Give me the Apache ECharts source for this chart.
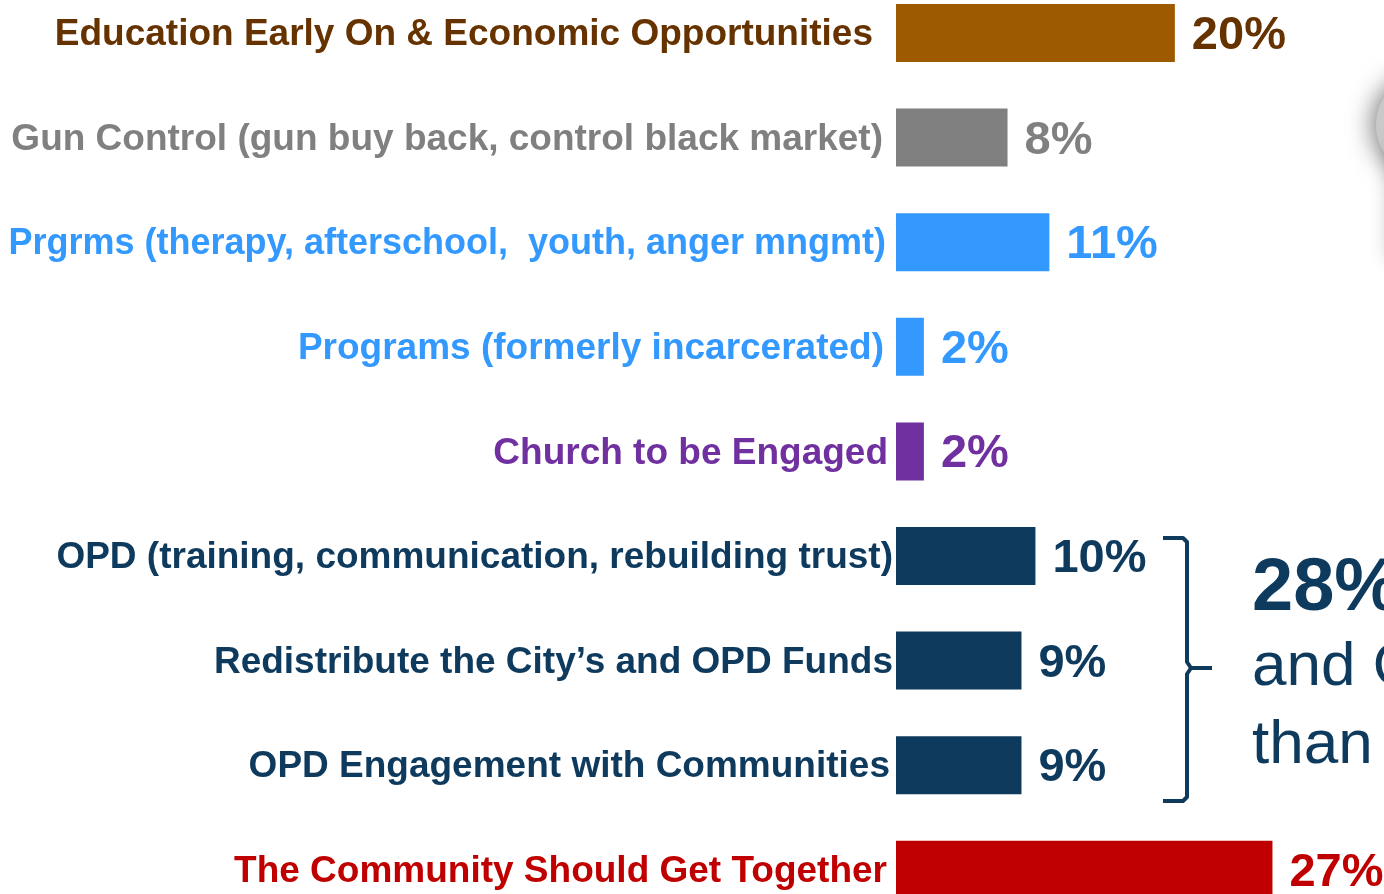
<!DOCTYPE html>
<html>
<head>
<meta charset="utf-8">
<script src="https://cdn.jsdelivr.net/npm/echarts@6/dist/echarts.min.js"></script>
<style>
  html, body { margin: 0; padding: 0; background: #ffffff; overflow: hidden; }
  #wrap { position: relative; width: 1384px; height: 894px; overflow: hidden; }
  /* the plot runs slightly past the top and bottom of the view */
  #chart { position: absolute; left: 0; top: -20px; width: 1384px; height: 962px; }
</style>
</head>
<body>
<div id="wrap"><div id="chart"></div></div>
<script>
// Survey responses: share of suggestions per theme (percent)
const categories = [
  'Education Early On & Economic Opportunities',
  'Gun Control (gun buy back, control black market)',
  'Prgrms (therapy, afterschool,  youth, anger mngmt)',
  'Programs (formerly incarcerated)',
  'Church to be Engaged',
  'OPD (training, communication, rebuilding trust)',
  'Redistribute the City\u2019s and OPD Funds',
  'OPD Engagement with Communities',
  'The Community Should Get Together'
];
const values = [20, 8, 11, 2, 2, 10, 9, 9, 27];
const opdGroupTotal = '28%';
const noteLines = ['and OPD', 'than'];

// Styling per row
const barColors  = ['#9E5A00', '#808080', '#3399FF', '#3399FF', '#7030A0', '#0E3A5E', '#0E3A5E', '#0E3A5E', '#C00000'];
const textColors = ['#663300', '#808080', '#3399FF', '#3399FF', '#7030A0', '#0E3A5E', '#0E3A5E', '#0E3A5E', '#C00000'];
const labelSize  = [37, 37, 36, 37, 37, 37, 37, 37, 37];
const labelGap   = [20, 10, 7, 9, 5, 0, 0, 3, 6];

const FONT = '"Liberation Sans", Arial, sans-serif';
const NAVY = '#0E3A5E';
const DY = 20; // container is shifted up by this much

const rich = {};
categories.forEach((c, i) => {
  rich['c' + i] = {
    color: textColors[i],
    fontSize: labelSize[i],
    fontWeight: 'bold',
    fontFamily: FONT,
    padding: [4, labelGap[i], 0, 0]
  };
});

const chart = echarts.init(document.getElementById('chart'), null, { renderer: 'canvas' });

chart.setOption({
  animation: false,
  backgroundColor: '#ffffff',
  grid: { left: 896, top: 0.7, width: 490, height: 941.4, containLabel: false },
  xAxis: {
    type: 'value', min: 0, max: 35,
    show: false
  },
  yAxis: {
    type: 'category',
    inverse: true,
    data: categories,
    axisLine: { show: false },
    axisTick: { show: false },
    splitLine: { show: false },
    axisLabel: {
      margin: 3,
      formatter: (v, i) => '{c' + i + '|' + v + '}',
      rich: rich
    }
  },
  series: [{
    type: 'bar',
    barWidth: 58,
    data: values.map((v, i) => ({
      value: v,
      itemStyle: { color: barColors[i] },
      label: { color: textColors[i] }
    })),
    label: {
      show: true,
      position: 'right',
      distance: 17,
      offset: [0, 3],
      fontSize: 47,
      fontWeight: 'bold',
      fontFamily: FONT,
      formatter: p => p.value + '%'
    }
  }],
  graphic: [
    // decorative rounded shape peeking in at the top right edge
    {
      type: 'circle',
      shape: { cx: 1428, cy: 125 + DY, r: 52 },
      style: { fill: '#c9c9c9', shadowBlur: 25, shadowColor: 'rgba(0,0,0,0.5)', shadowOffsetX: -4 }
    },
    {
      type: 'rect',
      shape: { x: 1394, y: 150 + DY, width: 60, height: 110 },
      style: { fill: '#ffffff', shadowBlur: 20, shadowColor: 'rgba(0,0,0,0.3)', shadowOffsetX: -4 }
    },
    // brace grouping the three OPD rows
    {
      type: 'polyline',
      shape: { points: [[1163, 538 + DY], [1183, 538 + DY], [1187, 542 + DY], [1187, 662 + DY], [1191, 668 + DY], [1212, 668 + DY]] },
      style: { fill: null, stroke: NAVY, lineWidth: 4, lineJoin: 'round' }
    },
    {
      type: 'polyline',
      shape: { points: [[1191, 668 + DY], [1187, 674 + DY], [1187, 797 + DY], [1183, 801 + DY], [1163, 801 + DY]] },
      style: { fill: null, stroke: NAVY, lineWidth: 4, lineJoin: 'round' }
    },
    {
      type: 'text',
      left: 1252, top: 553 + DY,
      style: { text: opdGroupTotal, font: 'bold 74px ' + FONT, fill: NAVY }
    },
    {
      type: 'text',
      left: 1252, top: 637 + DY,
      style: { text: noteLines[0], font: '62px ' + FONT, fill: NAVY }
    },
    {
      type: 'text',
      left: 1252, top: 715 + DY,
      style: { text: noteLines[1], font: '62px ' + FONT, fill: NAVY }
    }
  ]
});
</script>
</body>
</html>
